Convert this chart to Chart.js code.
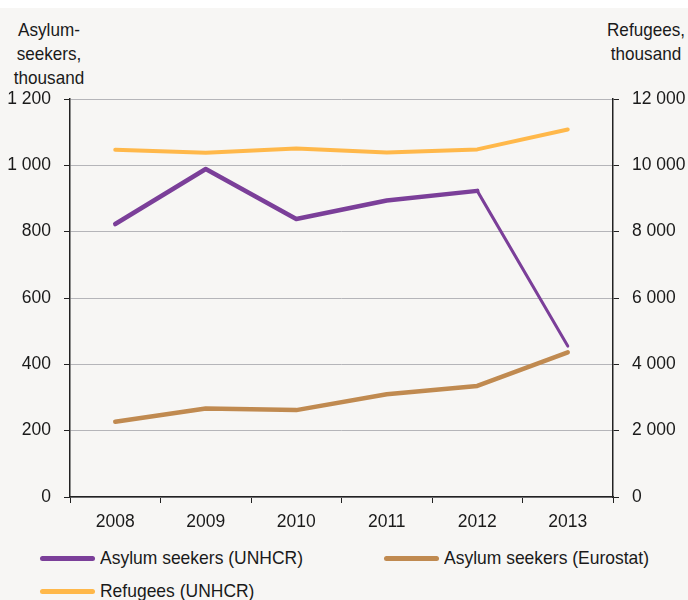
<!DOCTYPE html>
<html>
<head>
<meta charset="utf-8">
<script src="https://cdn.jsdelivr.net/npm/chart.js@4"></script>
<style>
  html, body { margin: 0; padding: 0; }
  body { width: 688px; height: 600px; background: #f7f6f4; position: relative; overflow: hidden;
         font-family: "Liberation Sans", Arial, sans-serif; color: #1a1a1a; }
  #topband { position: absolute; left: 0; top: 0; width: 688px; height: 8px; background: #fff; }
  #wrap { position: absolute; left: 0; top: 0; width: 688px; height: 540px; }
  .axis-title { position: absolute; font-size: 19px; line-height: 24px; text-align: center; transform: scaleX(0.9); }
  .leg { position: absolute; font-size: 19px; line-height: 22px; white-space: nowrap; }
  .leg .swatch { position: absolute; left: 0; top: 9px; width: 55px; height: 5px; border-radius: 3px; }
  .leg span.txt { position: absolute; left: 60px; top: 0; transform: scaleX(0.92); transform-origin: left center; }
</style>
</head>
<body>
<div id="topband"></div>
<div class="axis-title" style="left:6px; top:18px; width:86px;">Asylum-<br>seekers,<br>thousand</div>
<div class="axis-title" style="left:598px; top:18px; width:96px;">Refugees,<br>thousand</div>
<div id="wrap"><canvas id="chart"></canvas></div>
<div id="legend"></div>
<script>
/* Asylum seekers and refugees, 2008-2013 */

const YEARS = ["2008", "2009", "2010", "2011", "2012", "2013"];
const ASYLUM_UNHCR = [823, 989, 838, 894, 923, 455];
const ASYLUM_EUROSTAT = [227, 267, 262, 310, 335, 436];
const REFUGEES_UNHCR = [10470, 10380, 10510, 10390, 10480, 11080];

const COLORS = { unhcr: "#7b3f99", eurostat: "#c08a50", refugees: "#ffb84a" };

const fmt = (v) => String(v).replace(/\B(?=(\d{3})+(?!\d))/g, " ");

const FONT = { family: "'Liberation Sans', Arial, sans-serif", size: 17.5 };

new Chart(document.getElementById("chart"), {
  type: "line",
  data: {
    labels: YEARS,
    datasets: [
      { label: "Asylum seekers (UNHCR)", data: ASYLUM_UNHCR, yAxisID: "yL", borderColor: COLORS.unhcr, borderWidth: 4.5,
        segment: { borderWidth: (c) => (c.p0DataIndex === 4 ? 3 : 4.5) } },
      { label: "Asylum seekers (Eurostat)", data: ASYLUM_EUROSTAT, yAxisID: "yL", borderColor: COLORS.eurostat, borderWidth: 4.5 },
      { label: "Refugees (UNHCR)", data: REFUGEES_UNHCR, yAxisID: "yR", borderColor: COLORS.refugees, borderWidth: 4 },
    ].map((d) => ({ ...d, pointRadius: 0, tension: 0, borderCapStyle: "round", borderJoinStyle: "round" })),
  },
  options: {
    responsive: true, maintainAspectRatio: false, animation: false,
    layout: { padding: { top: 99, left: 0, right: 0, bottom: 0 } },
    plugins: { legend: { display: false }, tooltip: { enabled: false } },
    scales: {
      x: {
        offset: true,
        grid: { offset: true, drawOnChartArea: false, tickLength: 6, tickColor: "#222" },
        border: { color: "#222", width: 1.5 },
        ticks: { color: "#1a1a1a", font: FONT, padding: 9, maxRotation: 0 },
        afterFit: (s) => { s.height = 43; },
      },
      yL: {
        position: "left", min: 0, max: 1200,
        grid: { color: "#b5b5b9", lineWidth: 1, tickLength: 6, tickColor: "#222" },
        border: { color: "#222", width: 1.5 },
        ticks: { stepSize: 200, color: "#1a1a1a", font: FONT, padding: 13, callback: (v) => fmt(v) },
        afterFit: (s) => { s.width = 70; },
      },
      yR: {
        position: "right", min: 0, max: 12000,
        grid: { drawOnChartArea: false, tickLength: 6, tickColor: "#222" },
        border: { color: "#222", width: 1.5 },
        ticks: { stepSize: 2000, color: "#1a1a1a", font: FONT, padding: 13, callback: (v) => fmt(v) },
        afterFit: (s) => { s.width = 75; },
      },
    },
  },
});

// legend in the reference's two-column layout
const LEGEND_ITEMS = [
  ["Asylum seekers (UNHCR)", COLORS.unhcr, 40, 547],
  ["Asylum seekers (Eurostat)", COLORS.eurostat, 384, 547],
  ["Refugees (UNHCR)", COLORS.refugees, 40, 580],
];
document.getElementById("legend").innerHTML = LEGEND_ITEMS.map(([t, c, x, y]) =>
  `<div class="leg" style="left:${x}px;top:${y}px"><div class="swatch" style="background:${c}"></div><span class="txt">${t}</span></div>`
).join("");
</script>
</body>
</html>
